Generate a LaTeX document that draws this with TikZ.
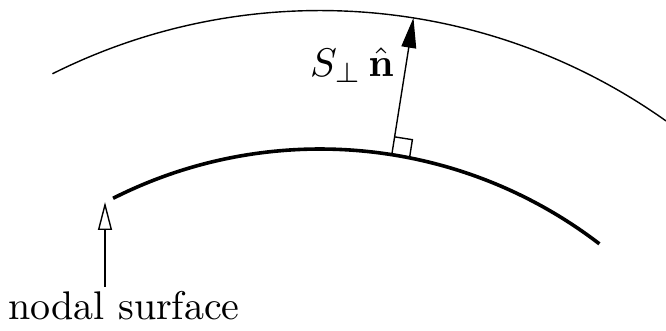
\documentclass[tikz,border=0pt]{standalone}
\usetikzlibrary{arrows.meta, calc}

\begin{document}
\begin{tikzpicture}[
    x=0.25pt, y=-0.25pt,
    outer/.style={line width=0.35pt},
    nodalline/.style={line width=0.9pt},
    normal/.style={line width=0.35pt, -{Triangle[length=7.5pt, width=3.7pt]}},
    pointer/.style={line width=0.35pt, -{Triangle[open, length=7pt, width=3.5pt]}},
    label/.style={inner sep=1pt}
]
\useasboundingbox (0,0) rectangle (666,331);
\coordinate (ctr) at (320,608);

% Outer surface
\draw[outer] ($(ctr)+(-116.6:597.5)$) arc[start angle=-116.6, end angle=-54.6, radius=597.5];

% Nodal surface
\draw[nodalline] ($(ctr)+(-116.8:459)$) arc[start angle=-116.8, end angle=-52.5, radius=459];

% Normal vector
\coordinate (foot) at ($(ctr)+(-81:459)$);
\coordinate (tip)  at ($(ctr)+(-81:597.5)$);
\draw[normal] (foot) -- (tip);
\draw[line width=0.35pt] ($(foot)+(-81:18)$) -- ++(9:18) -- ++(99:18);
\node[label] (snormal) at (352,65) {$S_\perp\,\hat{\mathbf{n}}$};

% Annotation
\node[label, anchor=base] (nodal) at (124,320) {nodal surface};
\coordinate (nodaltip) at (105,202);
\draw[pointer] (nodaltip |- nodal.north) -- (nodaltip);
\end{tikzpicture}
\end{document}
